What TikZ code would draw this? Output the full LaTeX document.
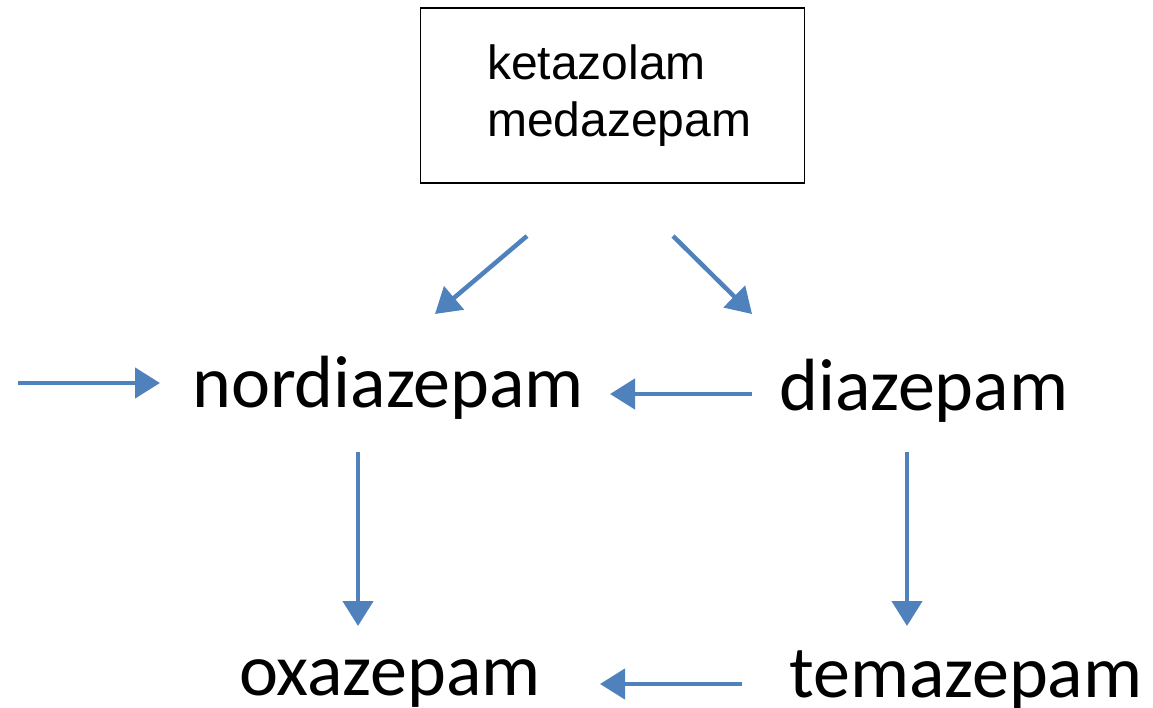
\documentclass[tikz,border=0pt]{standalone}
\usepackage{fontspec}
\setmainfont{Carlito}
\newfontfamily\arialfont{Liberation Sans}
\usetikzlibrary{arrows.meta}
\definecolor{arrowblue}{RGB}{79,129,189}
\begin{document}
\begin{tikzpicture}[x=1pt,y=-1pt,
  big/.style={inner sep=0pt,anchor=base west,font=\fontsize{74}{88}\selectfont},
  conn/.style={draw=arrowblue,line width=4.5pt,-{Triangle[length=25pt,width=30pt]},fill=arrowblue},
  boxtext/.style={inner sep=0pt,anchor=base west,font=\arialfont\fontsize{48}{57}\selectfont}]
\useasboundingbox (0,0) rectangle (1153,708);
\node[draw,line width=1.8pt,minimum width=384pt,minimum height=175pt,anchor=north west,inner sep=0pt] (box) at (419.5,7) {};
\node[boxtext] (t1) at (487,80) {ketazolam};
\node[boxtext] (t2) at (487,137) {medazepam};
\node[big] (nor) at (192,407) {nordiazepam};
\node[big] (dia) at (779,410) {diazepam};
\node[big] (oxa) at (239,695) {oxazepam};
\node[big] (tem) at (789,697) {temazepam};
\coordinate (a1s) at (527,236); \coordinate (a1e) at (435,314);
\coordinate (a2s) at (673,236); \coordinate (a2e) at (752,314);
\coordinate (a3s) at (18,383);  \coordinate (a3e) at (160,383);
\coordinate (a4s) at (752,394); \coordinate (a4e) at (610,394);
\coordinate (a5s) at (358,452); \coordinate (a5e) at (358,626);
\coordinate (a6s) at (907,452); \coordinate (a6e) at (907,626);
\coordinate (a7s) at (742,684); \coordinate (a7e) at (600,684);
\draw[conn] (a1s) -- (a1e);
\draw[conn] (a2s) -- (a2e);
\draw[conn] (a3s) -- (a3e);
\draw[conn] (a4s) -- (a4e);
\draw[conn] (a5s) -- (a5e);
\draw[conn] (a6s) -- (a6e);
\draw[conn] (a7s) -- (a7e);
\end{tikzpicture}
\end{document}
